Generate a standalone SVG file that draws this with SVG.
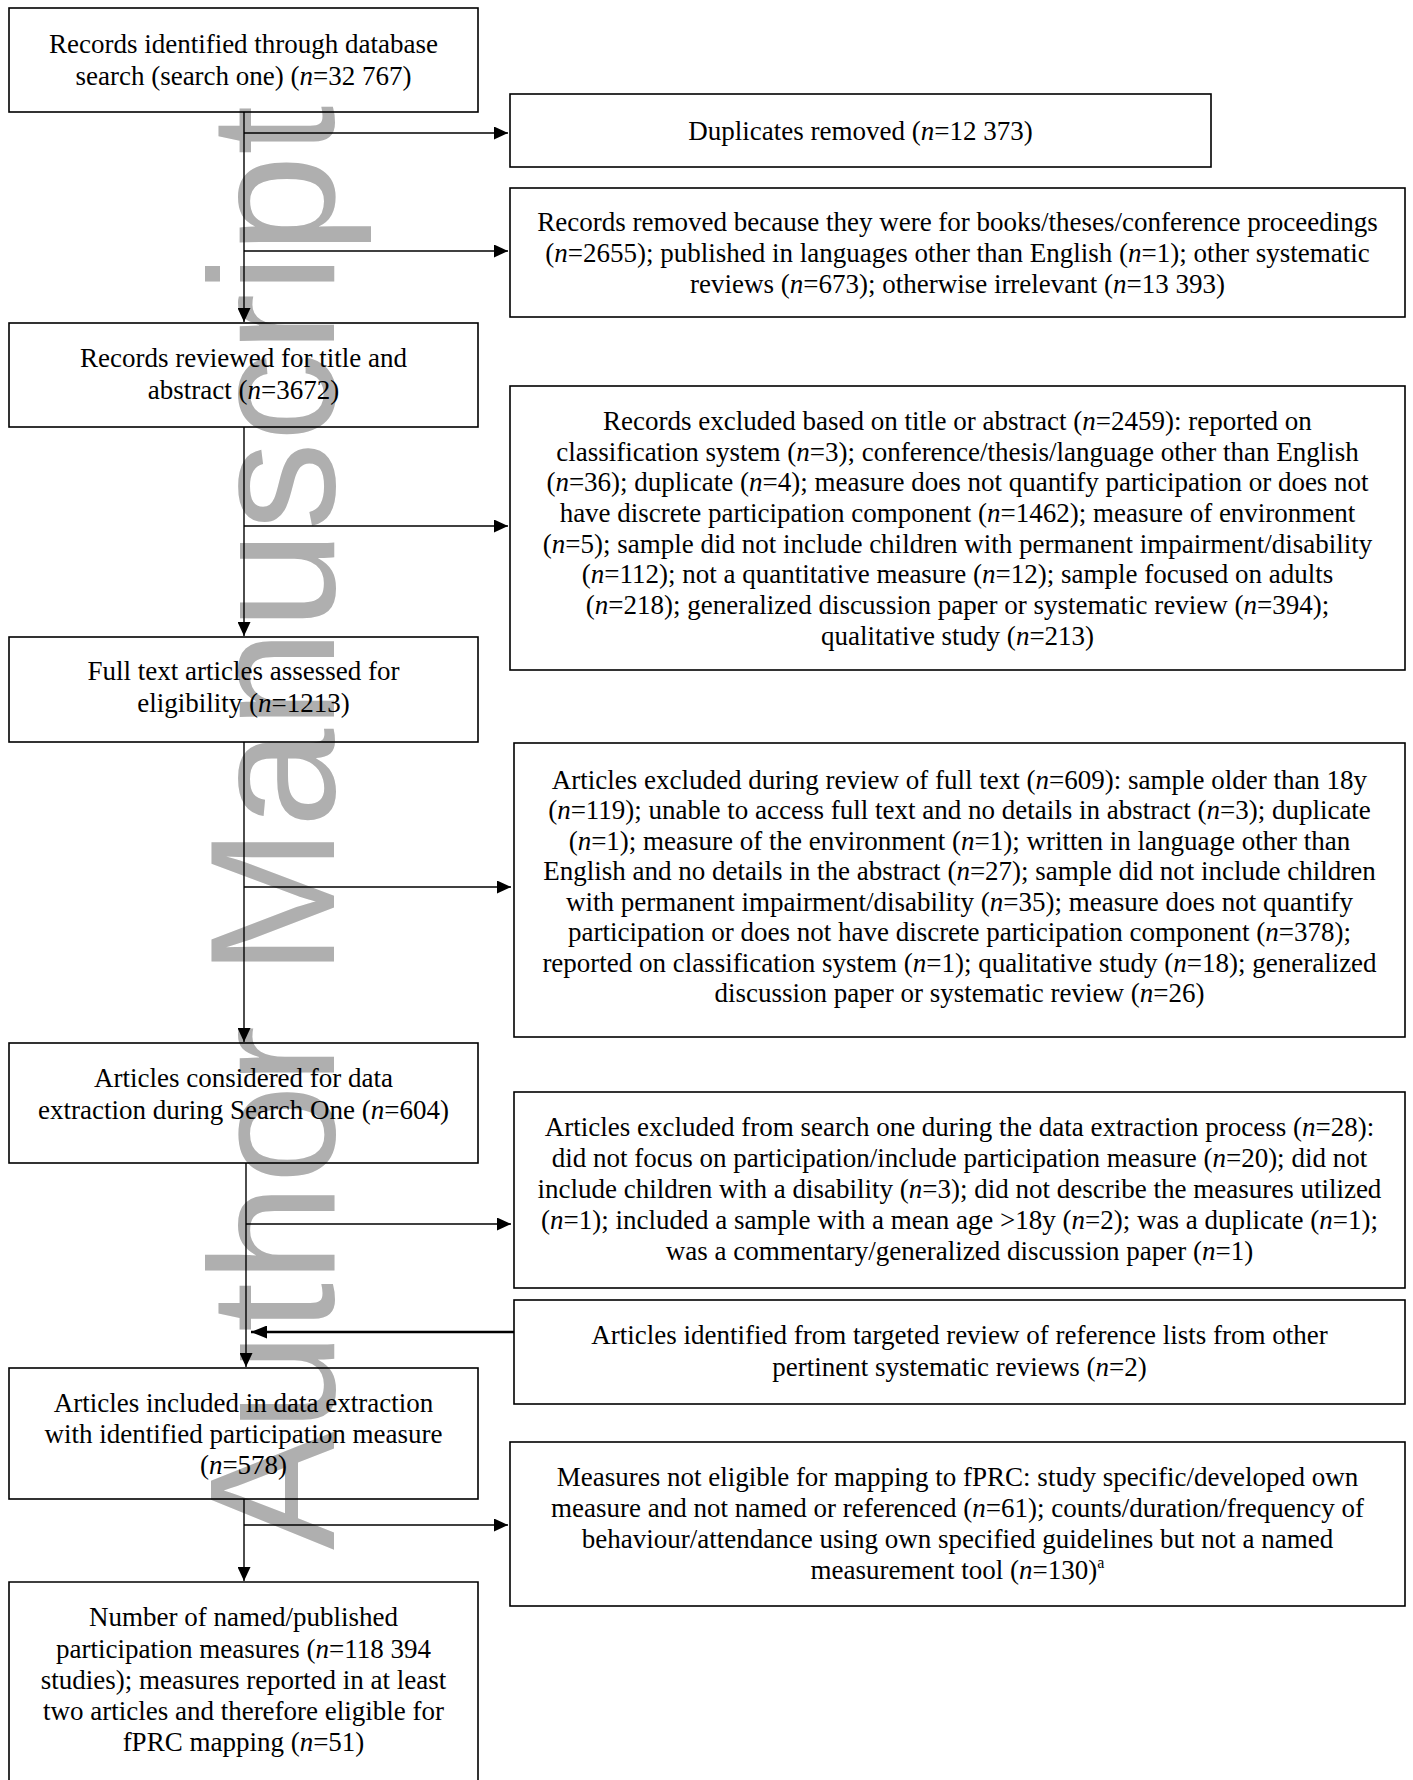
<svg xmlns="http://www.w3.org/2000/svg" width="1413" height="1780" viewBox="0 0 1413 1780">
<style>
.box{fill:none;stroke:#000;stroke-width:1.6}
.t{font-family:"Liberation Serif","Times New Roman",serif;font-size:27px;fill:#000;text-anchor:middle}
.i{font-style:italic}
.ln{fill:none;stroke:#000;stroke-width:1.4}
.wm{font-family:"Liberation Sans",Arial,sans-serif;font-size:178px;fill:#afafaf}
</style>
<defs>
<marker id="ah" markerWidth="14" markerHeight="13" refX="14" refY="6.5" orient="auto" markerUnits="userSpaceOnUse">
<path d="M0,0 L14,6.5 L0,13 Z" fill="#000"/>
</marker>
<marker id="ah2" markerWidth="16" markerHeight="13" refX="16" refY="6.5" orient="auto" markerUnits="userSpaceOnUse">
<path d="M0,0 L16,6.5 L0,13 Z" fill="#000"/>
</marker>
</defs>
<rect width="1413" height="1780" fill="#fff"/>
<text class="wm" transform="translate(334,1550) rotate(-90)">Author Manuscript</text>

<g id="connectors">
<path class="ln" d="M244,112 V322" marker-end="url(#ah)"/>
<path class="ln" d="M244,133 H508" marker-end="url(#ah)"/>
<path class="ln" d="M244,251 H508" marker-end="url(#ah)"/>
<path class="ln" d="M244,427 V636" marker-end="url(#ah)"/>
<path class="ln" d="M244,526 H508" marker-end="url(#ah)"/>
<path class="ln" d="M244,742 V1042" marker-end="url(#ah)"/>
<path class="ln" d="M244,887 H511" marker-end="url(#ah)"/>
<path class="ln" d="M246,1163 V1367" marker-end="url(#ah)"/>
<path class="ln" d="M246,1224 H511" marker-end="url(#ah)"/>
<path d="M514,1332 H251" fill="none" stroke="#000" stroke-width="2.4" marker-end="url(#ah2)"/>
<path class="ln" d="M244,1499 V1581" marker-end="url(#ah)"/>
<path class="ln" d="M244,1525 H508" marker-end="url(#ah)"/>
</g>

<g id="n1">
<rect class="box" x="9" y="8" width="469" height="104"/>
<text class="t" x="243.5" y="53">Records identified through database</text>
<text class="t" x="243.5" y="85">search (search one) (<tspan class="i">n</tspan>=32 767)</text>
</g>
<g id="n2">
<rect class="box" x="510" y="94" width="701" height="73"/>
<text class="t" x="860.5" y="140">Duplicates removed (<tspan class="i">n</tspan>=12 373)</text>
</g>
<g id="n3">
<rect class="box" x="510" y="188" width="895" height="129"/>
<text class="t" x="957.5" y="231">Records removed because they were for books/theses/conference proceedings</text>
<text class="t" x="957.5" y="262">(<tspan class="i">n</tspan>=2655); published in languages other than English (<tspan class="i">n</tspan>=1); other systematic</text>
<text class="t" x="957.5" y="293">reviews (<tspan class="i">n</tspan>=673); otherwise irrelevant (<tspan class="i">n</tspan>=13 393)</text>
</g>
<g id="n4">
<rect class="box" x="9" y="323" width="469" height="104"/>
<text class="t" x="243.5" y="367">Records reviewed for title and</text>
<text class="t" x="243.5" y="399">abstract (<tspan class="i">n</tspan>=3672)</text>
</g>
<g id="n5">
<rect class="box" x="510" y="386" width="895" height="284"/>
<text class="t" x="957.5" y="430">Records excluded based on title or abstract (<tspan class="i">n</tspan>=2459): reported on</text>
<text class="t" x="957.5" y="461">classification system (<tspan class="i">n</tspan>=3); conference/thesis/language other than English</text>
<text class="t" x="957.5" y="491">(<tspan class="i">n</tspan>=36); duplicate (<tspan class="i">n</tspan>=4); measure does not quantify participation or does not</text>
<text class="t" x="957.5" y="522">have discrete participation component (<tspan class="i">n</tspan>=1462); measure of environment</text>
<text class="t" x="957.5" y="553">(<tspan class="i">n</tspan>=5); sample did not include children with permanent impairment/disability</text>
<text class="t" x="957.5" y="583">(<tspan class="i">n</tspan>=112); not a quantitative measure (<tspan class="i">n</tspan>=12); sample focused on adults</text>
<text class="t" x="957.5" y="614">(<tspan class="i">n</tspan>=218); generalized discussion paper or systematic review (<tspan class="i">n</tspan>=394);</text>
<text class="t" x="957.5" y="645">qualitative study (<tspan class="i">n</tspan>=213)</text>
</g>
<g id="n6">
<rect class="box" x="9" y="637" width="469" height="105"/>
<text class="t" x="243.5" y="680">Full text articles assessed for</text>
<text class="t" x="243.5" y="712">eligibility (<tspan class="i">n</tspan>=1213)</text>
</g>
<g id="n7">
<rect class="box" x="514" y="743" width="891" height="294"/>
<text class="t" x="959.5" y="789">Articles excluded during review of full text (<tspan class="i">n</tspan>=609): sample older than 18y</text>
<text class="t" x="959.5" y="819">(<tspan class="i">n</tspan>=119); unable to access full text and no details in abstract (<tspan class="i">n</tspan>=3); duplicate</text>
<text class="t" x="959.5" y="850">(<tspan class="i">n</tspan>=1); measure of the environment (<tspan class="i">n</tspan>=1); written in language other than</text>
<text class="t" x="959.5" y="880">English and no details in the abstract (<tspan class="i">n</tspan>=27); sample did not include children</text>
<text class="t" x="959.5" y="911">with permanent impairment/disability (<tspan class="i">n</tspan>=35); measure does not quantify</text>
<text class="t" x="959.5" y="941">participation or does not have discrete participation component (<tspan class="i">n</tspan>=378);</text>
<text class="t" x="959.5" y="972">reported on classification system (<tspan class="i">n</tspan>=1); qualitative study (<tspan class="i">n</tspan>=18); generalized</text>
<text class="t" x="959.5" y="1002">discussion paper or systematic review (<tspan class="i">n</tspan>=26)</text>
</g>
<g id="n8">
<rect class="box" x="9" y="1043" width="469" height="120"/>
<text class="t" x="243.5" y="1087">Articles considered for data</text>
<text class="t" x="243.5" y="1119">extraction during Search One (<tspan class="i">n</tspan>=604)</text>
</g>
<g id="n9">
<rect class="box" x="514" y="1092" width="891" height="196"/>
<text class="t" x="959.5" y="1136">Articles excluded from search one during the data extraction process (<tspan class="i">n</tspan>=28):</text>
<text class="t" x="959.5" y="1167">did not focus on participation/include participation measure (<tspan class="i">n</tspan>=20); did not</text>
<text class="t" x="959.5" y="1198">include children with a disability (<tspan class="i">n</tspan>=3); did not describe the measures utilized</text>
<text class="t" x="959.5" y="1229">(<tspan class="i">n</tspan>=1); included a sample with a mean age &gt;18y (<tspan class="i">n</tspan>=2); was a duplicate (<tspan class="i">n</tspan>=1);</text>
<text class="t" x="959.5" y="1260">was a commentary/generalized discussion paper (<tspan class="i">n</tspan>=1)</text>
</g>
<g id="n10">
<rect class="box" x="514" y="1300" width="891" height="104"/>
<text class="t" x="959.5" y="1344">Articles identified from targeted review of reference lists from other</text>
<text class="t" x="959.5" y="1376">pertinent systematic reviews (<tspan class="i">n</tspan>=2)</text>
</g>
<g id="n11">
<rect class="box" x="9" y="1368" width="469" height="131"/>
<text class="t" x="243.5" y="1412">Articles included in data extraction</text>
<text class="t" x="243.5" y="1443">with identified participation measure</text>
<text class="t" x="243.5" y="1474">(<tspan class="i">n</tspan>=578)</text>
</g>
<g id="n12">
<rect class="box" x="510" y="1442" width="895" height="164"/>
<text class="t" x="957.5" y="1486">Measures not eligible for mapping to fPRC: study specific/developed own</text>
<text class="t" x="957.5" y="1517">measure and not named or referenced (<tspan class="i">n</tspan>=61); counts/duration/frequency of</text>
<text class="t" x="957.5" y="1548">behaviour/attendance using own specified guidelines but not a named</text>
<text class="t" x="957.5" y="1579">measurement tool (<tspan class="i">n</tspan>=130)<tspan font-size="16" dy="-11">a</tspan></text>
</g>
<g id="n13">
<path class="box" d="M9,1790 V1582 H478 V1790"/>
<text class="t" x="243.5" y="1626">Number of named/published</text>
<text class="t" x="243.5" y="1658">participation measures (<tspan class="i">n</tspan>=118 394</text>
<text class="t" x="243.5" y="1689">studies); measures reported in at least</text>
<text class="t" x="243.5" y="1720">two articles and therefore eligible for</text>
<text class="t" x="243.5" y="1751">fPRC mapping (<tspan class="i">n</tspan>=51)</text>
</g>
</svg>
